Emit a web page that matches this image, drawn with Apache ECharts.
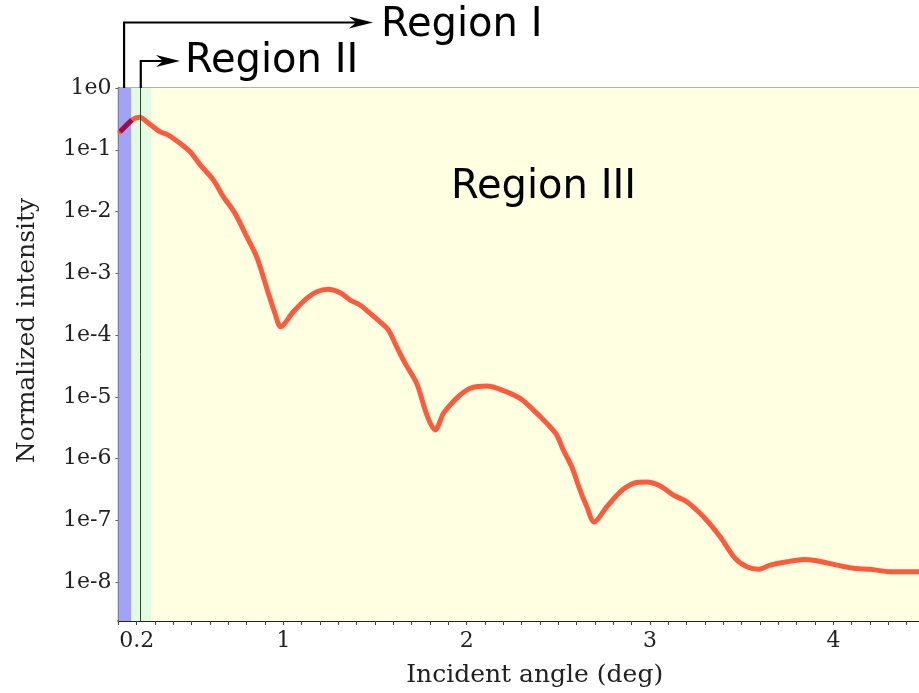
<!DOCTYPE html>
<html>
<head>
<meta charset="utf-8">
<script src="https://cdn.jsdelivr.net/npm/echarts@6/dist/echarts.min.js"></script>
<style>
  html, body { margin: 0; padding: 0; background: #fff; }
  #chart { width: 919px; height: 693px; }
</style>
</head>
<body>
<div id="chart"></div>
<script>
  // incident angle (deg) and normalized intensity
  const angle = [
    0.109, 0.173, 0.218, 0.254, 0.327, 0.372, 0.436, 0.491, 0.545, 0.618,
    0.672, 0.736, 0.800, 0.854, 0.890, 0.918, 0.954, 0.985, 1.054, 1.127,
    1.182, 1.245, 1.309, 1.364, 1.418, 1.473, 1.527, 1.572, 1.618, 1.664,
    1.727, 1.773, 1.800, 1.827, 1.873, 1.909, 1.964, 2.018, 2.109, 2.182,
    2.291, 2.364, 2.437, 2.491, 2.527, 2.573, 2.618, 2.655, 2.695, 2.764,
    2.837, 2.909, 2.982, 3.055, 3.127, 3.200, 3.291, 3.382, 3.464, 3.528,
    3.591, 3.655, 3.746, 3.837, 3.910, 4.019, 4.109, 4.200, 4.309, 4.464
  ]
  const intensity = [
    1.96e-1, 3.03e-1, 3.36e-1, 2.84e-1, 1.96e-1, 1.73e-1, 1.27e-1, 9.29e-2, 5.75e-2, 3.24e-2,
    1.74e-2, 9.33e-3, 3.91e-3, 1.85e-3, 8.79e-4, 4.73e-4, 2.24e-4, 1.36e-4, 2.38e-4, 3.93e-4,
    5.02e-4, 5.50e-4, 4.84e-4, 3.69e-4, 3.06e-4, 2.24e-4, 1.64e-4, 1.21e-4, 6.46e-5, 3.48e-5,
    1.65e-5, 6.10e-6, 3.80e-6, 2.90e-6, 5.40e-6, 7.35e-6, 1.07e-5, 1.37e-5, 1.49e-5, 1.32e-5,
    9.44e-6, 6.10e-6, 3.72e-6, 2.40e-6, 1.37e-6, 7.36e-7, 3.09e-7, 1.66e-7, 9.38e-8, 1.66e-7,
    2.90e-7, 3.96e-7, 4.16e-7, 3.59e-7, 2.56e-7, 2.00e-7, 1.14e-7, 5.42e-8, 2.42e-8, 1.77e-8,
    1.61e-8, 1.88e-8, 2.13e-8, 2.33e-8, 2.21e-8, 1.88e-8, 1.67e-8, 1.61e-8, 1.47e-8, 1.47e-8
  ]

  // shaded regions (deg)
  const regionI = [0.1, 0.169]
  const regionII = [0.169, 0.278]
  const regionIII = [0.278, 4.467]
  const criticalAngle = 0.222
  const regionIStart = 0.131

  const xLabels = [0.2, 1, 2, 3, 4]
  const xRange = [0.1, 4.467]
  const yRange = [Math.pow(10, -8.63), 1]

  const serif = '"DejaVu Serif", "Liberation Serif", serif'
  const sans = '"DejaVu Sans", "Noto Sans", sans-serif'

  const points = angle.map((a, i) => [a, intensity[i]])
  // the part of the curve inside region I is shown darker (under the blue band)
  const splitIdx = angle.findIndex((a) => a > regionI[1])

  const chart = echarts.init(document.getElementById('chart'))

  const option = {
    animation: false,
    grid: {
      left: 118.4,
      right: 0,
      top: 88,
      bottom: 72,
      show: true,
      borderColor: '#999',
      borderWidth: 1.5,
      backgroundColor: 'transparent'
    },
    xAxis: {
      type: 'value',
      min: xRange[0],
      max: xRange[1],
      interval: 0.1,
      name: 'Incident angle (deg)',
      nameLocation: 'middle',
      nameGap: 42,
      nameTextStyle: {
        fontFamily: serif,
        fontSize: 25,
        color: '#222',
        padding: [0, 0, 0, 32]
      },
      axisLine: { lineStyle: { color: '#222', width: 2 } },
      axisTick: { show: true, length: 4, lineStyle: { color: '#444' } },
      splitLine: { show: false },
      axisLabel: {
        interval: 0,
        margin: 9,
        fontFamily: serif,
        fontSize: 22,
        color: '#222',
        showMaxLabel: false,
        formatter: (v) => {
          const r = Math.round(v * 10) / 10
          return xLabels.includes(r) ? String(r) : ''
        }
      }
    },
    yAxis: {
      type: 'log',
      logBase: 10,
      min: yRange[0],
      max: yRange[1],
      name: 'Normalized intensity',
      nameLocation: 'middle',
      nameGap: 78,
      nameRotate: 90,
      nameTextStyle: {
        fontFamily: serif,
        fontSize: 25,
        color: '#222',
        padding: [0, 0, 0, 48]
      },
      axisLine: { show: true, lineStyle: { color: '#333', width: 1.5 } },
      axisTick: { show: true, length: 3, lineStyle: { color: '#666' } },
      splitLine: { show: false },
      axisLabel: {
        margin: 7,
        fontFamily: serif,
        fontSize: 22,
        color: '#222',
        showMinLabel: false,
        formatter: (v) => '1e' + Math.round(Math.log10(v))
      }
    },
    series: [
      {
        // background bands
        type: 'line',
        data: [],
        silent: true,
        z: 1,
        markArea: {
          silent: true,
          data: [
            [{ xAxis: regionIII[0], itemStyle: { color: '#ffffe2' } }, { xAxis: regionIII[1] }],
            [{ xAxis: regionII[0], itemStyle: { color: '#e2fbe2' } }, { xAxis: regionII[1] }],
            [{ xAxis: regionI[0], itemStyle: { color: '#a2a2f6' } }, { xAxis: regionI[1] }]
          ]
        },
        markLine: {
          silent: true,
          symbol: 'none',
          label: { show: false },
          lineStyle: { color: '#2f4a2f', width: 1, type: 'solid' },
          data: [{ xAxis: criticalAngle }]
        }
      },
      {
        name: 'intensity',
        type: 'line',
        z: 3,
        data: points.slice(splitIdx - 1),
        showSymbol: false,
        smooth: 0.3,
        lineStyle: { width: 5, color: '#ff5a3c', cap: 'round', join: 'round' }
      },
      {
        name: 'intensity (region I)',
        type: 'line',
        z: 4,
        data: points.slice(0, splitIdx + 1),
        showSymbol: false,
        lineStyle: { width: 5, color: '#9e0a50', cap: 'butt' }
      }
    ]
  }

  chart.setOption(option)

  // region annotations above the plot, anchored to the axis
  const plotTop = 88
  const x1 = chart.convertToPixel({ xAxisIndex: 0 }, regionIStart)
  const x2 = chart.convertToPixel({ xAxisIndex: 0 }, criticalAngle)
  const y1 = 22.5
  const y2 = 61
  const tip1 = 373
  const tip2 = 180

  const arrowHead = (x, y) => ({
    type: 'polygon',
    shape: { points: [[x, y], [x - 24, y - 6], [x - 17, y], [x - 24, y + 6]] },
    style: { fill: '#000' }
  })

  chart.setOption({
    graphic: [
      {
        type: 'polyline',
        shape: { points: [[x1, plotTop], [x1, y1], [tip1 - 14, y1]] },
        style: { stroke: '#000', lineWidth: 2.2, fill: null }
      },
      arrowHead(tip1, y1),
      {
        type: 'polyline',
        shape: { points: [[x2, plotTop], [x2, y2], [tip2 - 14, y2]] },
        style: { stroke: '#000', lineWidth: 2.2, fill: null }
      },
      arrowHead(tip2, y2),
      {
        type: 'text',
        x: 381,
        y: 26,
        style: { text: 'Region I', font: '40px ' + sans, fill: '#000', verticalAlign: 'middle' }
      },
      {
        type: 'text',
        x: 185,
        y: 62,
        style: { text: 'Region II', font: '40px ' + sans, fill: '#000', verticalAlign: 'middle' }
      },
      {
        type: 'text',
        x: 451,
        y: 188,
        z: 10,
        style: { text: 'Region III', font: '40px ' + sans, fill: '#000', verticalAlign: 'middle' }
      }
    ]
  })

  window.addEventListener('resize', () => chart.resize())
</script>
</body>
</html>
